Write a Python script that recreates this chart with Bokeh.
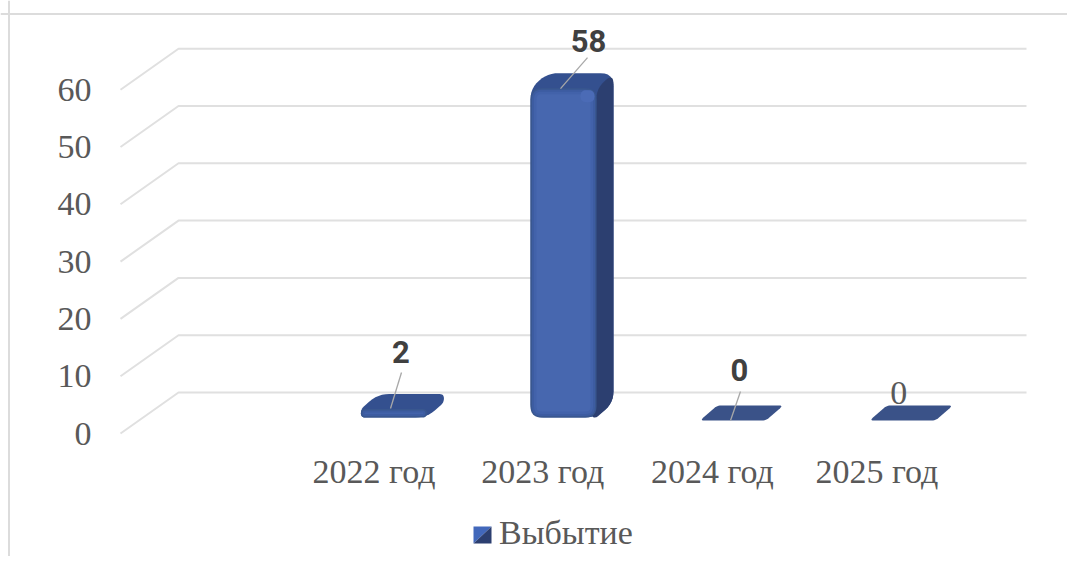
from bokeh.plotting import figure
from bokeh.models import Range1d, LinearAxis, FixedTicker, Span, Legend, LegendItem
from bokeh.core.properties import value
from bokeh.embed import file_html
from bokeh.resources import INLINE

# ---- data
categories = ["2022 год", "2023 год", "2024 год", "2025 год"]
category_slots = [1, 2, 3, 4]
series_name = "Выбытие"
values = [2, 58, 0, 0]
y_ticks = [0, 10, 20, 30, 40, 50, 60]
data_labels = ["2", "58", "0", "0"]

# ---- scale of the picture (pixels per unit)
SX, SY = 169.6, 5.73
X_AT_ZERO_PX, Y_AT_ZERO_PX = 204.8, 433.0
W_PX, H_PX = 1067, 556


def to_x(px):
    return (px - X_AT_ZERO_PX) / SX


def to_y(py):
    return (Y_AT_ZERO_PX - py) / SY


# the oblique "3D" projection
DEPTH_X = 58 / SX
DEPTH_Y = 41 / SY
BAR_HALF = 33 / SX
BAR_DX = 17 / SX
BAR_DY = 15 / SY
BAR_SHIFT = -1.5 / SX
AXIS_LEFT, AXIS_RIGHT = 0.0 - 0.5, 4.5

p = figure(
    width=W_PX, height=H_PX, output_backend="svg", toolbar_location=None,
    x_axis_type=None, y_axis_type=None,
    x_range=Range1d(to_x(0), to_x(W_PX)),
    y_range=Range1d(to_y(H_PX), to_y(0)),
    min_border=0, min_border_left=0, min_border_right=0, min_border_top=0, min_border_bottom=0,
    outline_line_color=None, background_fill_color="white", border_fill_color="white",
)
p.grid.visible = False

# ---- chart-area border (top and left only are visible)
p.add_layout(Span(location=to_y(13.5), dimension="width", line_color="#dcdcdc", line_width=2))
p.add_layout(Span(location=to_x(8.5), dimension="height", line_color="#dcdcdc", line_width=2))

# ---- walls' gridlines
gx = [[AXIS_LEFT, AXIS_LEFT + DEPTH_X, AXIS_RIGHT + DEPTH_X] for _ in y_ticks]
gy = [[t, t + DEPTH_Y, t + DEPTH_Y] for t in y_ticks]
p.multi_line(gx, gy, line_color="#e0e0e0", line_width=2)


# ---- rounded polygons
def rounded(xs, ys, r, steps=6):
    pts = [(x * SX, y * SY) for x, y in zip(xs, ys)]
    n = len(pts)
    out = []
    for i in range(n):
        x0, y0 = pts[i - 1]
        x1, y1 = pts[i]
        x2, y2 = pts[(i + 1) % n]
        l1 = max(((x0 - x1) ** 2 + (y0 - y1) ** 2) ** 0.5, 1e-6)
        l2 = max(((x2 - x1) ** 2 + (y2 - y1) ** 2) ** 0.5, 1e-6)
        rr = min(r, l1 / 2, l2 / 2)
        ax, ay = x1 + (x0 - x1) * rr / l1, y1 + (y0 - y1) * rr / l1
        bx, by = x1 + (x2 - x1) * rr / l2, y1 + (y2 - y1) * rr / l2
        for s in range(steps + 1):
            t = s / steps
            out.append(((1 - t) ** 2 * ax + 2 * t * (1 - t) * x1 + t ** 2 * bx,
                        (1 - t) ** 2 * ay + 2 * t * (1 - t) * y1 + t ** 2 * by))
    return [q[0] / SX for q in out], [q[1] / SY for q in out]


shape_x, shape_y, shape_c = [], [], []


def add(xs, ys, r, color):
    a, b = rounded(xs, ys, r)
    shape_x.append(a)
    shape_y.append(b)
    shape_c.append(color)


FRONT_BANDS = [(0, "#39578f"), (1.5, "#3d5ca1"), (3.5, "#4262aa"), (6, "#4767af")]
TOP_COLOR, SIDE_COLOR, FLAT_COLOR = "#34508f", "#2c3f70", "#3a5288"

centers = []
for slot, v in zip(category_slots, values):
    cx = slot + 0.5 * DEPTH_X
    centers.append(cx)
    fl = cx + BAR_SHIFT - BAR_HALF - BAR_DX / 2
    fr = cx + BAR_SHIFT + BAR_HALF - BAR_DX / 2
    bl, br = fl + BAR_DX, fr + BAR_DX
    base = 0.5 * DEPTH_Y - BAR_DY / 2
    back = base + BAR_DY
    if v == 0:
        add([fl, fr, br, bl], [base, base, back, back], 4, FLAT_COLOR)
        continue
    low = base + 3 / SY
    top = base + v
    add([fl, fr, br, br, bl, fl], [low, low, low + BAR_DY, top + BAR_DY, top + BAR_DY, top], 13, TOP_COLOR)
    if (top - low) * SY > 40:
        add([fr - 4 / SX, fr, br, br, fr], [low, low, low + BAR_DY, top + BAR_DY, top], 11, SIDE_COLOR)
    for inset, col in FRONT_BANDS:
        ix, iy = inset / SX, inset / SY
        if (top - low) * SY <= 2 * inset + 1:
            iy = 0.0
            if inset > 1.5:
                continue
        add([fl + ix, fr - ix, fr - ix, fl + ix], [low + iy, low + iy, top - iy, top - iy],
            max(11 - inset, 3), col)
    if (top - low) * SY > 40:
        hx, hy = fr - 9 / SX, top - 8 / SY
        d, e = 7 / SX, 6 / SY
        add([hx - d, hx + d, hx + d, hx - d], [hy - e, hy - e, hy + e, hy + e], 6, "#4b6bb6")

bars = p.patches(shape_x, shape_y, fill_color=shape_c, line_color=None)

# ---- data labels with leader lines; offsets in pixels from the bar's top centre
LABEL_OFFSET = [(-3, -50), (15, -40), (-3.6, -43.5), (-14, -20)]
LEADER = [((-2.4, -29), (-13.4, 7)), ((14, -23), (-13, 8)), ((-2.6, -21.5), (-12.6, 7.5)), None]
BOLD = [True, True, True, False]

lx, ly = [], []
for c, v, lead in zip(centers, values, LEADER):
    if lead is None:
        continue
    (a, b), (e, f) = lead
    ay = 0.5 * DEPTH_Y + v
    lx.append([c + a / SX, c + e / SX])
    ly.append([ay - b / SY, ay - f / SY])
p.multi_line(lx, ly, line_color="#a8a8a8", line_width=1.3)

for c, v, lab, off, bold in zip(centers, values, data_labels, LABEL_OFFSET, BOLD):
    p.text([c + off[0] / SX], [0.5 * DEPTH_Y + v - off[1] / SY], text=[lab],
           text_align="center", text_baseline="middle",
           text_font=value("Roboto" if bold else "Liberation Serif"),
           text_font_style="bold" if bold else "normal",
           text_font_size="31px" if bold else "34px",
           text_color="#404040" if bold else "#595959")

# ---- axes
yaxis = LinearAxis(fixed_location=AXIS_LEFT, ticker=FixedTicker(ticks=y_ticks))
yaxis.axis_line_color = None
yaxis.major_tick_line_color = None
yaxis.minor_tick_line_color = None
yaxis.major_tick_in = 0
yaxis.major_tick_out = 0
yaxis.major_label_standoff = 29
yaxis.major_label_text_font = "Liberation Serif"
yaxis.major_label_text_font_size = "34px"
yaxis.major_label_text_color = "#595959"
p.add_layout(yaxis, "left")

label_slots = [0.995, 1.99, 2.99, 3.96]
xaxis = LinearAxis(fixed_location=0, ticker=FixedTicker(ticks=label_slots))
xaxis.major_label_overrides = dict(zip(label_slots, categories))
xaxis.axis_line_color = None
xaxis.major_tick_line_color = None
xaxis.minor_tick_line_color = None
xaxis.major_tick_in = 0
xaxis.major_tick_out = 0
xaxis.major_label_standoff = 19
xaxis.major_label_text_font = "Liberation Serif"
xaxis.major_label_text_font_size = "34px"
xaxis.major_label_text_color = "#595959"
p.add_layout(xaxis, "below")

# ---- legend: the label is a real legend; its key is the two-tone square drawn just below
key = p.patches([[0, 0, 0]], [[0, 0, 0]], fill_color="#4268bb", fill_alpha=0, line_color=None)
legend = Legend(items=[LegendItem(label=series_name, renderers=[key])],
                location=(473, 4), orientation="horizontal",
                border_line_color=None, background_fill_alpha=0, margin=0, padding=0,
                glyph_width=18, glyph_height=17, label_standoff=8, label_height=30,
                label_text_font="Liberation Serif", label_text_font_size="34px",
                label_text_color="#595959")
p.add_layout(legend, "center")
KEY_L, KEY_R, KEY_T, KEY_B = to_x(473), to_x(491), to_y(526), to_y(543)
p.patches([[KEY_L, KEY_R, KEY_L], [KEY_L, KEY_R, KEY_R]],
          [[KEY_T, KEY_T, KEY_B], [KEY_B, KEY_T, KEY_B]],
          fill_color=["#4268bb", "#2c3f70"], line_color=None)

open("out.html", "w").write(file_html(p, INLINE))
